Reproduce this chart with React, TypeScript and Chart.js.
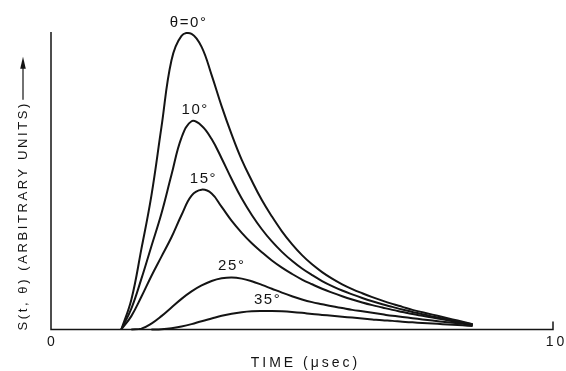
import React, { useEffect, useRef } from "react";
import { Chart, registerables } from "chart.js";

Chart.register(...registerables);

// ---- data (time in µsec, signal in arbitrary units, 0° peak = 1) ----
const TIME = [1.4, 1.6, 1.8, 2.0, 2.2, 2.4, 2.6, 2.8, 3.0, 3.2, 3.4, 3.6, 3.8, 4.0, 4.2, 4.4, 4.6, 4.8, 5.0, 5.2, 5.4, 5.6, 5.8, 6.0, 6.2, 6.4, 6.6, 6.8, 7.0, 7.2, 7.4, 7.6, 7.8, 8.0, 8.2, 8.4];

const S_0 = [0, 0.1, 0.27, 0.45, 0.68, 0.905, 0.987, 0.994, 0.95, 0.855, 0.75, 0.655, 0.57, 0.5, 0.435, 0.38, 0.33, 0.287, 0.25, 0.219, 0.193, 0.171, 0.152, 0.136, 0.122, 0.109, 0.097, 0.086, 0.076, 0.066, 0.058, 0.05, 0.042, 0.034, 0.026, 0.018];
const S_10 = [0, 0.07, 0.17, 0.28, 0.39, 0.52, 0.645, 0.7, 0.685, 0.64, 0.575, 0.505, 0.44, 0.385, 0.337, 0.296, 0.261, 0.231, 0.205, 0.183, 0.163, 0.146, 0.131, 0.118, 0.106, 0.095, 0.085, 0.076, 0.067, 0.059, 0.051, 0.044, 0.037, 0.03, 0.023, 0.017];
const S_15 = [0, 0.045, 0.11, 0.18, 0.245, 0.31, 0.385, 0.45, 0.47, 0.457, 0.412, 0.365, 0.325, 0.29, 0.26, 0.232, 0.208, 0.187, 0.168, 0.152, 0.137, 0.124, 0.112, 0.101, 0.091, 0.082, 0.074, 0.066, 0.059, 0.052, 0.046, 0.04, 0.034, 0.028, 0.022, 0.016];
const S_25 = [null, 0, 0.003, 0.02, 0.045, 0.074, 0.103, 0.128, 0.148, 0.163, 0.172, 0.175, 0.171, 0.162, 0.15, 0.137, 0.124, 0.112, 0.101, 0.092, 0.085, 0.078, 0.072, 0.066, 0.061, 0.056, 0.051, 0.046, 0.042, 0.038, 0.034, 0.03, 0.026, 0.023, 0.019, 0.015];
const S_35 = [null, null, null, 0, 0.001, 0.004, 0.01, 0.018, 0.028, 0.037, 0.046, 0.053, 0.058, 0.061, 0.062, 0.062, 0.061, 0.059, 0.056, 0.052, 0.049, 0.046, 0.043, 0.04, 0.037, 0.034, 0.031, 0.029, 0.026, 0.024, 0.022, 0.02, 0.018, 0.016, 0.014, 0.012];

const SERIES = [S_0, S_10, S_15, S_25, S_35];
const SERIES_LABELS = ["θ=0°", "10°", "15°", "25°", "35°"];

const X_MIN = 0;
const X_MAX = 10;
const Y_MIN = 0;
const Y_MAX = 1;
const X_TICKS = [0, 10];
const X_TICK_LABELS = ["0", "10"];
const X_TITLE = "TIME (μsec)";
const Y_TITLE = "S(t, θ) (ARBITRARY UNITS)";

// ---- style ----
const INK = "#141414";
const FONT = '"Liberation Sans", Arial, Helvetica, sans-serif';

function spacedText(ctx: CanvasRenderingContext2D, text: string, x: number, y: number, spacing: number, align: "center" | "left") {
  const c: any = ctx;
  c.letterSpacing = spacing + "px";
  const w = ctx.measureText(text).width;
  const startX = align === "center" ? x - (w - spacing) / 2 : x;
  ctx.textAlign = "left";
  ctx.fillText(text, startX, y);
  return w - spacing;
}

const decorPlugin = {
  id: "decor",
  afterDatasetsDraw(chart: any) {
    const { ctx, scales } = chart;
    const xs = scales.x;
    const ys = scales.y;
    const x0 = xs.getPixelForValue(X_MIN);
    const x1 = xs.getPixelForValue(X_MAX);
    const yb = ys.getPixelForValue(Y_MIN);
    const yt = ys.getPixelForValue(Y_MAX);

    ctx.save();
    // axes
    ctx.strokeStyle = INK;
    ctx.lineWidth = 1.5;
    ctx.beginPath();
    ctx.moveTo(x0, yt);
    ctx.lineTo(x0, yb);
    ctx.lineTo(x1, yb);
    ctx.lineTo(x1, yb - 8);
    ctx.stroke();

    ctx.fillStyle = INK;
    ctx.textBaseline = "middle";

    // x tick labels
    ctx.font = `14px ${FONT}`;
    X_TICKS.forEach((v, i) => {
      spacedText(ctx, X_TICK_LABELS[i], xs.getPixelForValue(v) + (i === X_TICKS.length - 1 ? 2 : 0), yb + 13, 3, "center");
    });

    // x title
    ctx.font = `14px ${FONT}`;
    spacedText(ctx, X_TITLE, (x0 + x1) / 2 + 2, yb + 34, 3, "center");

    // y title (rotated) with arrow
    ctx.save();
    ctx.translate(23, yb + 1);
    ctx.rotate(-Math.PI / 2);
    ctx.font = `13px ${FONT}`;
    const tw = spacedText(ctx, Y_TITLE, 0, 0, 2.6, "left");
    ctx.lineWidth = 1.2;
    ctx.beginPath();
    ctx.moveTo(tw + 4, 0);
    ctx.lineTo(tw + 36, 0);
    ctx.stroke();
    ctx.beginPath();
    ctx.moveTo(tw + 47, 0);
    ctx.lineTo(tw + 35, -2.8);
    ctx.lineTo(tw + 35, 2.8);
    ctx.closePath();
    ctx.fill();
    ctx.restore();

    // series labels above each peak (peak located by parabolic refinement)
    ctx.font = `15px ${FONT}`;
    ctx.textBaseline = "alphabetic";
    SERIES.forEach((s, si) => {
      let best = -1;
      let bi = 0;
      s.forEach((v, i) => {
        if (v != null && v > best) {
          best = v;
          bi = i;
        }
      });
      let tPeak = TIME[bi];
      const a = s[bi - 1];
      const c = s[bi + 1];
      if (a != null && c != null) {
        const den = a - 2 * best + c;
        if (den !== 0) tPeak = TIME[bi] + (0.5 * (a - c) / den) * (TIME[bi + 1] - TIME[bi]);
      }
      const px = xs.getPixelForValue(tPeak);
      const py = ys.getPixelForValue(best);
      spacedText(ctx, SERIES_LABELS[si], px, py - 7, 1.6, "center");
    });
    ctx.restore();
  },
};

export default function App() {
  const ref = useRef<HTMLCanvasElement | null>(null);

  useEffect(() => {
    document.body.style.margin = "0";
    const canvas = ref.current;
    if (!canvas) return;
    const chart = new Chart(canvas, {
      type: "line",
      data: {
        datasets: SERIES.map((s, si) => ({
          label: SERIES_LABELS[si],
          data: TIME.map((t, i) => (s[i] == null ? null : { x: t, y: s[i] as number })).filter((p) => p !== null) as any,
          borderColor: INK,
          borderWidth: 2,
          pointRadius: 0,
          fill: false,
          tension: 0.4,
          clip: false as any,
        })),
      },
      options: {
        animation: false,
        responsive: false,
        events: [],
        layout: { padding: { left: 51, right: 13, top: 32, bottom: 41.5 } },
        scales: {
          x: { type: "linear", min: X_MIN, max: X_MAX, display: false },
          y: { type: "linear", min: Y_MIN, max: Y_MAX, display: false },
        },
        plugins: { legend: { display: false }, tooltip: { enabled: false }, title: { display: false } },
      },
      plugins: [decorPlugin],
    });
    return () => chart.destroy();
  }, []);

  return (
    <div style={{ width: 566, height: 371, background: "#fff" }}>
      <canvas ref={ref} width={566} height={371} style={{ display: "block" }} />
    </div>
  );
}
